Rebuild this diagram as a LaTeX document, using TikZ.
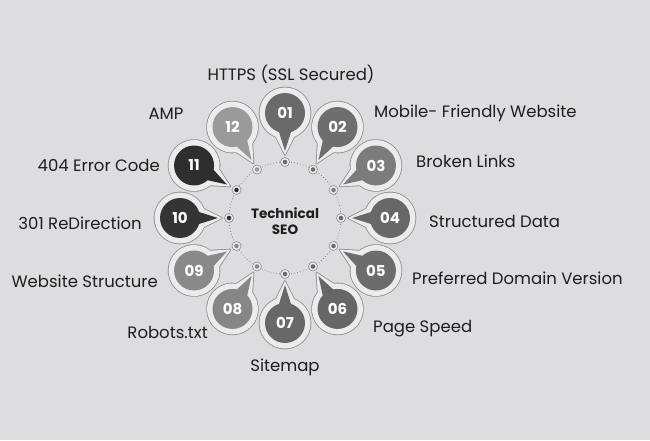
\documentclass[tikz,border=0pt]{standalone}
\usepackage{fontspec}
\setmainfont{Poppins}
\definecolor{bg}{RGB}{221,220,222}
\definecolor{k01}{RGB}{106,106,106}
\definecolor{k02}{RGB}{110,110,110}
\definecolor{k03}{RGB}{124,124,124}
\definecolor{k04}{RGB}{104,104,104}
\definecolor{k05}{RGB}{108,108,108}
\definecolor{k06}{RGB}{102,102,102}
\definecolor{k07}{RGB}{104,104,104}
\definecolor{k08}{RGB}{134,134,134}
\definecolor{k09}{RGB}{138,138,138}
\definecolor{k10}{RGB}{52,52,52}
\definecolor{k11}{RGB}{46,46,46}
\definecolor{k12}{RGB}{154,154,154}
\definecolor{ringc}{RGB}{236,236,237}
\definecolor{edgec}{RGB}{140,140,142}
\definecolor{txt}{RGB}{30,30,30}
\begin{document}
\begin{tikzpicture}[x=1pt,y=1pt,
  lbl/.style={font=\fontsize{16.5}{19}\selectfont, text=txt, inner sep=0pt},
  num/.style={circle, minimum size=40pt, inner sep=0pt, text=white, font=\fontsize{15}{16}\selectfont\bfseries},
  ringline/.style={draw=edgec, line width=1.6pt, line join=round},
  ringfill/.style={fill=ringc},
  dotring/.style={circle, draw=edgec, fill=ringc, line width=0.6pt, minimum size=9pt, inner sep=0pt},
  guide/.style={draw=gray, line width=0.7pt, dash pattern=on 0.8pt off 2.2pt},
]
\fill[bg] (0,0) rectangle (650,440);
\useasboundingbox (0,0) rectangle (650,440);
\coordinate (C) at (285,222);
\draw[guide] (C) circle (56);
\foreach \n/\a/\c in {12/120/k12, 01/90/k01, 02/60/k02, 03/30/k03, 04/0/k04, 05/-30/k05, 06/-60/k06, 07/-90/k07, 08/-120/k08, 09/-150/k09, 10/180/k10, 11/150/k11}{
  \begin{scope}[shift={(C)}]
    \begin{scope}[shift={(\a:105)}, rotate=\a+180]
      \draw[ringline] (0,0) circle (25.5);
      \draw[ringline] (25:24) -- (42,0) -- (-25:24) -- cycle;
      \fill[ringfill] (0,0) circle (25.5);
      \fill[ringfill] (25:24) -- (42,0) -- (-25:24) -- cycle;
      \fill[\c] (22:18) -- (38,0) -- (-22:18) -- cycle;
    \end{scope}
    \node[num, fill=\c] (b\n) at (\a:105) {\n};
    \node[dotring] (d\n) at (\a:56) {};
    \fill[\c] (d\n.center) circle (2.3);
  \end{scope}
}
\node[font=\fontsize{13.5}{16}\selectfont\bfseries, align=center, text=txt] (t) at (285,219) {Technical\\SEO};
\node[lbl, anchor=mid] (l01) at (291,362) {HTTPS (SSL Secured)};
\node[lbl, anchor=mid west] (l02) at (374,325) {Mobile- Friendly Website};
\node[lbl, anchor=mid west] (l03) at (416,275) {Broken Links};
\node[lbl, anchor=mid west] (l04) at (429,215) {Structured Data};
\node[lbl, anchor=mid west] (l05) at (412,158) {Preferred Domain Version};
\node[lbl, anchor=mid west] (l06) at (373,110) {Page Speed};
\node[lbl, anchor=mid] (l07) at (285,71) {Sitemap};
\node[lbl, anchor=mid east] (l08) at (208,104) {Robots.txt};
\node[lbl, anchor=mid east] (l09) at (158,155) {Website Structure};
\node[lbl, anchor=mid east] (l10) at (142,213) {301 ReDirection};
\node[lbl, anchor=mid east] (l11) at (160,271) {404 Error Code};
\node[lbl, anchor=mid] (l12) at (166,323) {AMP};
\end{tikzpicture}
\end{document}
